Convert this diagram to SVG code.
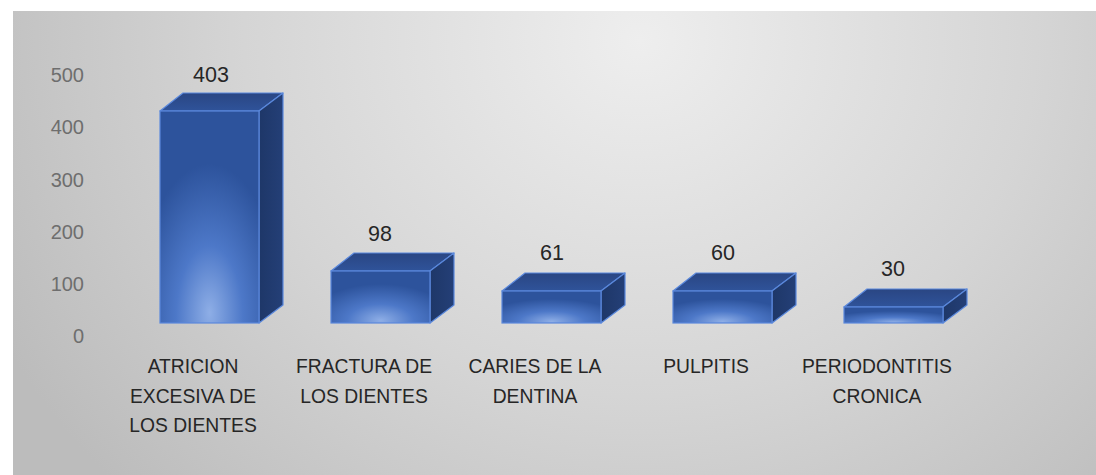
<svg xmlns="http://www.w3.org/2000/svg" width="1096" height="475" viewBox="0 0 1096 475">
<defs>
<radialGradient id="bg" gradientUnits="userSpaceOnUse" cx="640" cy="40" r="720" gradientTransform="translate(640 40) scale(1 0.9) translate(-640 -40)">
<stop offset="0" stop-color="#eeeeee"/>
<stop offset="0.55" stop-color="#d5d5d5"/>
<stop offset="1" stop-color="#bcbcbc"/>
</radialGradient>
<radialGradient id="front" cx="0.5" cy="1" r="0.75" fx="0.5" fy="0.95">
<stop offset="0" stop-color="#8eaee6"/>
<stop offset="0.45" stop-color="#4d78c8"/>
<stop offset="1" stop-color="#2d539c"/>
</radialGradient>
<linearGradient id="top" x1="0" y1="0" x2="0" y2="1">
<stop offset="0" stop-color="#2a4683"/>
<stop offset="1" stop-color="#2f539a"/>
</linearGradient>
<linearGradient id="side" x1="0" y1="0" x2="1" y2="0">
<stop offset="0" stop-color="#1e3768"/>
<stop offset="1" stop-color="#243f77"/>
</linearGradient>
</defs>
<style>
.axis{font-family:"Liberation Sans",Arial,sans-serif;font-size:20px;fill:#6e6e6e;text-anchor:end}
.val{font-family:"Liberation Sans",Arial,sans-serif;font-size:21.5px;fill:#262626;text-anchor:middle}
.cat{font-family:"Liberation Sans",Arial,sans-serif;font-size:19.3px;fill:#262626;text-anchor:middle}
.f{fill:url(#front);stroke:#5a88dc;stroke-width:1.2}
.t{fill:url(#top);stroke:#5a88dc;stroke-width:1.2;stroke-linejoin:round}
.s{fill:url(#side);stroke:#5a88dc;stroke-width:1.2;stroke-linejoin:round}
</style>
<rect x="13" y="11" width="1083" height="464" fill="url(#bg)"/>
<g id="y-axis">
<text class="axis" x="84" y="82">500</text>
<text class="axis" x="84" y="134">400</text>
<text class="axis" x="84" y="187">300</text>
<text class="axis" x="84" y="239">200</text>
<text class="axis" x="84" y="291">100</text>
<text class="axis" x="84" y="343">0</text>
</g>
<g id="bar1">
<polygon class="t" points="160,111 183,93 283,93 259,111"/>
<polygon class="s" points="259,111 283,93 283,305 259,323"/>
<rect class="f" x="160" y="111" width="99" height="212"/>
<text class="val" x="211" y="82">403</text>
<text class="cat" x="193" y="373">ATRICION</text>
<text class="cat" x="193" y="403">EXCESIVA DE</text>
<text class="cat" x="193" y="432">LOS DIENTES</text>
</g>
<g id="bar2">
<polygon class="t" points="331,271 354,253 454,253 430,271"/>
<polygon class="s" points="430,271 454,253 454,305 430,323"/>
<rect class="f" x="331" y="271" width="99" height="52"/>
<text class="val" x="380" y="241">98</text>
<text class="cat" x="364" y="373">FRACTURA DE</text>
<text class="cat" x="364" y="403">LOS DIENTES</text>
</g>
<g id="bar3">
<polygon class="t" points="502,291 525,273 625,273 601,291"/>
<polygon class="s" points="601,291 625,273 625,305 601,323"/>
<rect class="f" x="502" y="291" width="99" height="32"/>
<text class="val" x="552" y="260">61</text>
<text class="cat" x="535" y="373">CARIES DE LA</text>
<text class="cat" x="535" y="403">DENTINA</text>
</g>
<g id="bar4">
<polygon class="t" points="673,291 696,273 796,273 772,291"/>
<polygon class="s" points="772,291 796,273 796,305 772,323"/>
<rect class="f" x="673" y="291" width="99" height="32"/>
<text class="val" x="723" y="260">60</text>
<text class="cat" x="706" y="373">PULPITIS</text>
</g>
<g id="bar5">
<polygon class="t" points="844,307 867,289 967,289 943,307"/>
<polygon class="s" points="943,307 967,289 967,305 943,323"/>
<rect class="f" x="844" y="307" width="99" height="16"/>
<text class="val" x="893" y="276">30</text>
<text class="cat" x="877" y="373">PERIODONTITIS</text>
<text class="cat" x="877" y="403">CRONICA</text>
</g>
<g id="connectors"></g>
</svg>
